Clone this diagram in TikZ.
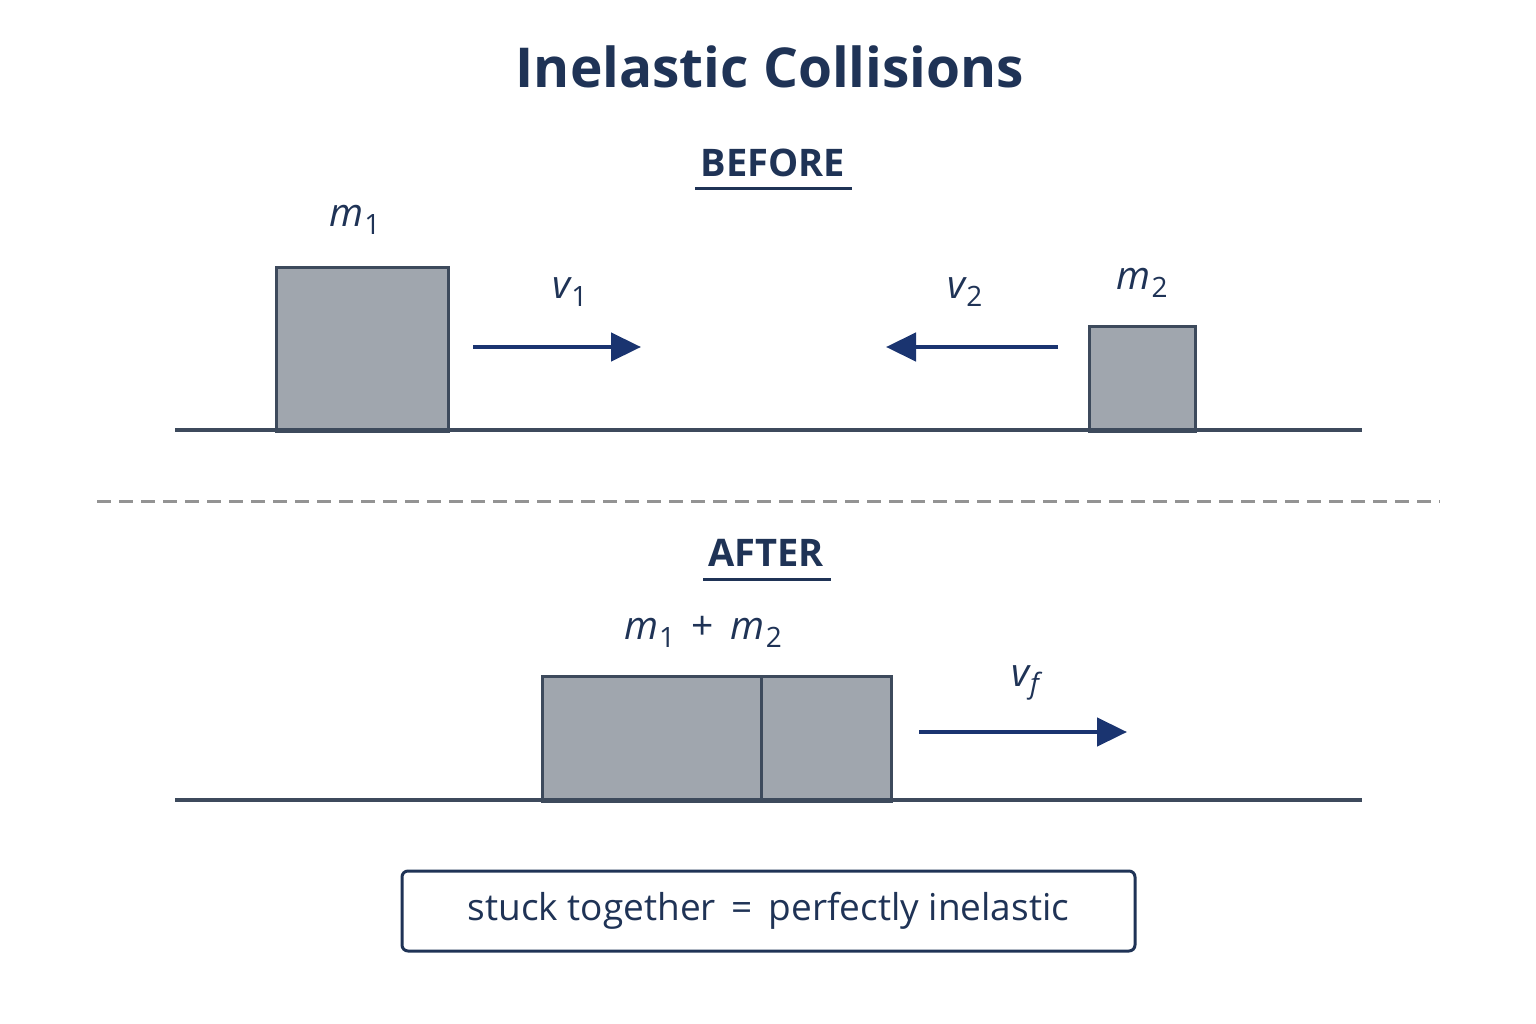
\documentclass[tikz,border=0pt]{standalone}
\usepackage{fontspec}
\setmainfont{Open Sans}
\usetikzlibrary{arrows.meta}
\definecolor{navy}{HTML}{1F3356}
\definecolor{arr}{HTML}{1A3470}
\definecolor{boxfill}{HTML}{A0A6AE}
\definecolor{boxline}{HTML}{3D4A5C}
\newcommand{\mv}[2]{{\itshape #1}\kern1pt\raisebox{-0.35ex}{\fontsize{28}{30}\selectfont #2}}
\begin{document}
\begin{tikzpicture}[x=1pt,y=-1pt,
  blk/.style={draw=boxline,fill=boxfill,line width=3pt},
  gnd/.style={draw=boxline,line width=3.5pt},
  vel/.style={draw=arr,line width=4.5pt,-{Triangle[length=30pt,width=28pt]}},
  lbl/.style={text=navy,font=\fontsize{39}{42}\selectfont},
  head/.style={text=navy,font=\bfseries\fontsize{38}{42}\selectfont},
  ul/.style={draw=navy,line width=3pt}]
\useasboundingbox[fill=white] (0,0) rectangle (1536,1024);
\node[text=navy,font=\bfseries\fontsize{55}{60}\selectfont] (title) at (770,67) {Inelastic Collisions};
\node[head] (before) at (773,163) {BEFORE};
\draw[ul] (695,189) -- (852,189);
\node[blk,minimum width=172pt,minimum height=164pt,anchor=north west] (m1box) at (275,266) {};
\node[lbl] (m1) at (355,220) {\mv{m}{1}};
\node[blk,minimum width=106pt,minimum height=105pt,anchor=north west] (m2box) at (1088,325) {};
\node[lbl] (m2) at (1142,283) {\mv{m}{2}};
\coordinate (a1s) at (473,347); \coordinate (a1e) at (641,347);
\draw[vel] (a1s) -- (a1e);
\node[lbl] (v1) at (570,292) {\mv{v}{1}};
\coordinate (a2s) at (1058,347); \coordinate (a2e) at (886,347);
\draw[vel] (a2s) -- (a2e);
\node[lbl] (v2) at (965,292) {\mv{v}{2}};
\draw[gnd] (175,430) -- (1362,430);
\draw[draw=gray!85,line width=3pt,dash pattern=on 14pt off 8pt] (97,501) -- (1440,501);
\node[head] (after) at (766,553) {AFTER};
\draw[ul] (703,579) -- (831,579);
\node[lbl] (m12) at (703,632) {\mv{m}{1} \,+\, \mv{m}{2}};
\node[blk,minimum width=219pt,minimum height=125pt,anchor=north west] (b1) at (541,675) {};
\node[blk,minimum width=130pt,minimum height=125pt,anchor=north west] (b2) at (760,675) {};
\coordinate (afs) at (919,732); \coordinate (afe) at (1127,732);
\draw[vel] (afs) -- (afe);
\node[lbl] (vf) at (1025,683) {\mv{v}{\itshape f}};
\draw[gnd] (175,800) -- (1362,800);
\node[draw=navy,line width=3pt,rounded corners=6pt,minimum width=733pt,minimum height=80pt,text=navy,font=\fontsize{37}{40}\selectfont] (note) at (768.5,911) {stuck together \,=\, perfectly inelastic};
\end{tikzpicture}
\end{document}
